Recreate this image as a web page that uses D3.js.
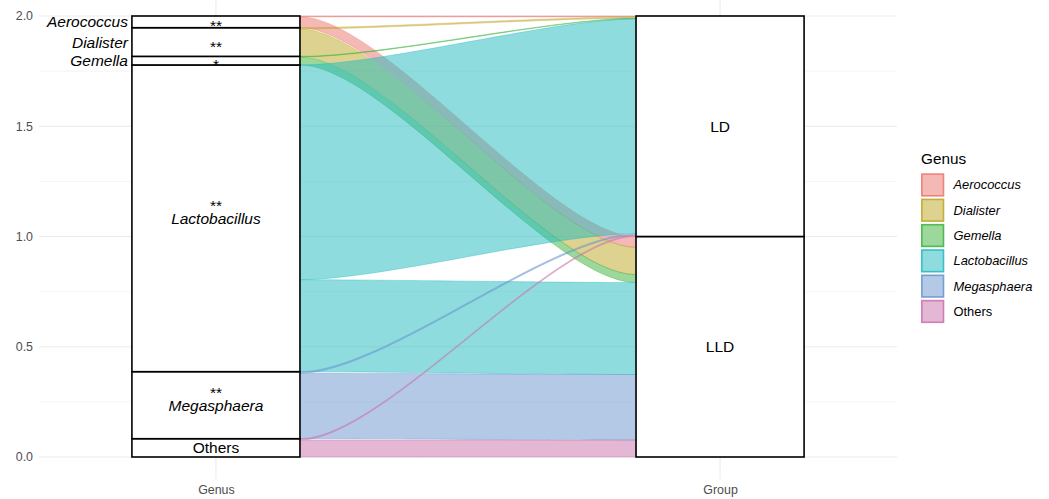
<!DOCTYPE html>
<html>
<head>
<meta charset="utf-8">
<script src="https://cdn.jsdelivr.net/npm/d3@7"></script>
<style>
  body { margin: 0; background: #fff; }
  svg { display: block; font-family: "Liberation Sans", Arial, sans-serif; }
</style>
</head>
<body>
<svg id="chart" width="1049" height="499"></svg>
<script>
// Genus composition of the LD and LLD groups (proportion of each group)
const genera   = ["Aerococcus", "Dialister", "Gemella", "Lactobacillus", "Megasphaera", "Others"];
const groups   = ["LD", "LLD"];
const ldShare  = [0.004, 0.006, 0.003, 0.974, 0.007, 0.006];
const lldShare = [0.049, 0.124, 0.036, 0.417, 0.297, 0.077];
const signif   = ["**", "**", "*", "**", "**", ""];
const axes     = ["Genus", "Group"];
const yTicks   = [0, 0.5, 1, 1.5, 2];
const yMinor   = [0.25, 0.75, 1.25, 1.75];
const palette  = ["#EB736B", "#BBA521", "#39B139", "#1FB9BF", "#6793CD", "#C96FA9"];

const svg = d3.select("#chart");
const panel = { left: 39, right: 897, top: -6, bottom: 479 };

const x = d3.scalePoint().domain(axes).range([panel.left, panel.right]).padding(0.351);
const y = d3.scaleLinear().domain([0, 2]).range([457, 16]);
const color = d3.scaleOrdinal().domain(genera).range(palette);
const stratumW = x.step() / 3;

// ---- grid ----
const grid = svg.append("g");
grid.selectAll("line.minor").data(yMinor).join("line")
  .attr("x1", panel.left).attr("x2", panel.right)
  .attr("y1", d => y(d)).attr("y2", d => y(d))
  .attr("stroke", "#ebebeb").attr("stroke-width", 0.55);
grid.selectAll("line.major").data(yTicks).join("line")
  .attr("x1", panel.left).attr("x2", panel.right)
  .attr("y1", d => y(d)).attr("y2", d => y(d))
  .attr("stroke", "#ebebeb").attr("stroke-width", 1.1);
grid.selectAll("line.vert").data(axes).join("line")
  .attr("x1", d => x(d)).attr("x2", d => x(d))
  .attr("y1", 0).attr("y2", panel.bottom)
  .attr("stroke", "#ebebeb").attr("stroke-width", 1.1);

// ---- stacking ----
// Genus axis: strata stacked bottom-up in reverse genus order; within a stratum LLD below LD
const genusStack = [];
const flowLeft = {};
let acc = 0;
for (let i = genera.length - 1; i >= 0; i--) {
  const y0 = acc;
  flowLeft[genera[i]] = {
    LLD: [acc, acc + lldShare[i]],
    LD: [acc + lldShare[i], acc + lldShare[i] + ldShare[i]]
  };
  acc += lldShare[i] + ldShare[i];
  genusStack.push({ name: genera[i], i, y0, y1: acc });
}
// Group axis: LLD at the bottom, LD on top; genera stacked bottom-up inside each
const groupStack = [];
const flowRight = {};
genera.forEach(g => flowRight[g] = {});
acc = 0;
["LLD", "LD"].forEach(grp => {
  const y0 = acc;
  const shares = grp === "LD" ? ldShare : lldShare;
  for (let i = genera.length - 1; i >= 0; i--) {
    flowRight[genera[i]][grp] = [acc, acc + shares[i]];
    acc += shares[i];
  }
  groupStack.push({ name: grp, y0, y1: acc });
});

// ---- flows ----
const xa = x("Genus") + stratumW / 2;
const xb = x("Group") - stratumW / 2;
const k = 0.25 * (xb - xa);
function ribbon(l, r) {
  const p = d3.path();
  p.moveTo(xa, y(l[1]));
  p.bezierCurveTo(xa + k, y(l[1]), xb - k, y(r[1]), xb, y(r[1]));
  p.lineTo(xb, y(r[0]));
  p.bezierCurveTo(xb - k, y(r[0]), xa + k, y(l[0]), xa, y(l[0]));
  p.closePath();
  return p.toString();
}
const flows = [];
genera.forEach(g => {
  groups.forEach(grp => flows.push({ genus: g, grp, l: flowLeft[g][grp], r: flowRight[g][grp] }));
});
svg.append("g").selectAll("path").data(flows).join("path")
  .attr("d", d => ribbon(d.l, d.r))
  .attr("fill", d => color(d.genus)).attr("fill-opacity", 0.5)
  .attr("stroke", d => color(d.genus)).attr("stroke-opacity", 0.45)
  .attr("stroke-width", 0.8);

// ---- strata ----
const strata = svg.append("g");
strata.selectAll("rect.genus").data(genusStack).join("rect")
  .attr("x", x("Genus") - stratumW / 2).attr("width", stratumW)
  .attr("y", d => y(d.y1)).attr("height", d => y(d.y0) - y(d.y1))
  .attr("fill", "#fff").attr("stroke", "#000").attr("stroke-width", 1.6);
strata.selectAll("rect.group").data(groupStack).join("rect")
  .attr("x", x("Group") - stratumW / 2).attr("width", stratumW)
  .attr("y", d => y(d.y1)).attr("height", d => y(d.y0) - y(d.y1))
  .attr("fill", "#fff").attr("stroke", "#000").attr("stroke-width", 1.6);

// ---- stratum labels ----
const fs = 15.5;
const labels = svg.append("g").attr("font-size", fs).attr("fill", "#000");
genusStack.forEach(d => {
  const cy = (y(d.y0) + y(d.y1)) / 2;
  const italic = d.name !== "Others" ? "italic" : "normal";
  const mark = signif[d.i];
  const outside = mark && (d.y1 - d.y0) < 0.2;
  if (outside) {
    // thin strata: name beside the box, significance mark inside it
    labels.append("text").attr("x", x("Genus") - stratumW / 2 - 4).attr("y", cy + 5.6)
      .attr("text-anchor", "end").attr("font-style", italic).text(d.name);
    labels.append("text").attr("x", x("Genus")).attr("y", cy + 9.5)
      .attr("text-anchor", "middle").text(mark);
  } else if (mark) {
    // mark on the line above the name, inside one text element
    const t = labels.append("text").attr("text-anchor", "middle");
    t.append("tspan").attr("x", x("Genus")).attr("y", cy + 5.5 - 12.5).text(mark);
    t.append("tspan").attr("x", x("Genus")).attr("y", cy + 5.5)
      .attr("font-style", italic).text(d.name);
  } else {
    labels.append("text").attr("x", x("Genus")).attr("y", cy + 5.5)
      .attr("text-anchor", "middle").attr("font-style", italic).text(d.name);
  }
});
groupStack.forEach(d => {
  labels.append("text").attr("x", x("Group")).attr("y", (y(d.y0) + y(d.y1)) / 2 + 5.5)
    .attr("text-anchor", "middle").text(d.name);
});

// ---- axes ----
const yAxis = svg.append("g").attr("transform", `translate(${panel.left - 4},0)`)
  .call(d3.axisLeft(y).tickValues(yTicks).tickFormat(d3.format(".1f")).tickSize(0).tickPadding(2));
yAxis.select(".domain").remove();
yAxis.selectAll("text").attr("font-size", 12.4).attr("fill", "#4d4d4d")
  .attr("font-family", "Liberation Sans, Arial, sans-serif");

const xAxis = svg.append("g").attr("transform", `translate(0,${panel.bottom + 2})`)
  .call(d3.axisBottom(x).tickSize(0).tickPadding(4));
xAxis.select(".domain").remove();
xAxis.selectAll("text").attr("font-size", 12.4).attr("fill", "#4d4d4d")
  .attr("font-family", "Liberation Sans, Arial, sans-serif");

// ---- legend ----
const legend = svg.append("g").attr("transform", "translate(921,0)");
legend.append("text").attr("x", 0).attr("y", 164.3).attr("font-size", 15.3).attr("fill", "#000").text("Genus");
const keys = legend.selectAll("g.key").data(genera).join("g")
  .attr("transform", (d, i) => `translate(0,${173.3 + i * 25.3})`);
keys.append("rect").attr("x", 0.8).attr("y", 0.8).attr("width", 21.7).attr("height", 21.7)
  .attr("fill", d => color(d)).attr("fill-opacity", 0.5)
  .attr("stroke", d => color(d)).attr("stroke-opacity", 0.85).attr("stroke-width", 1.6);
keys.append("text").attr("x", 32.5).attr("y", 16.2).attr("font-size", 12.9)
  .attr("font-style", d => d === "Others" ? "normal" : "italic").attr("fill", "#000").text(d => d);
</script>
</body>
</html>
